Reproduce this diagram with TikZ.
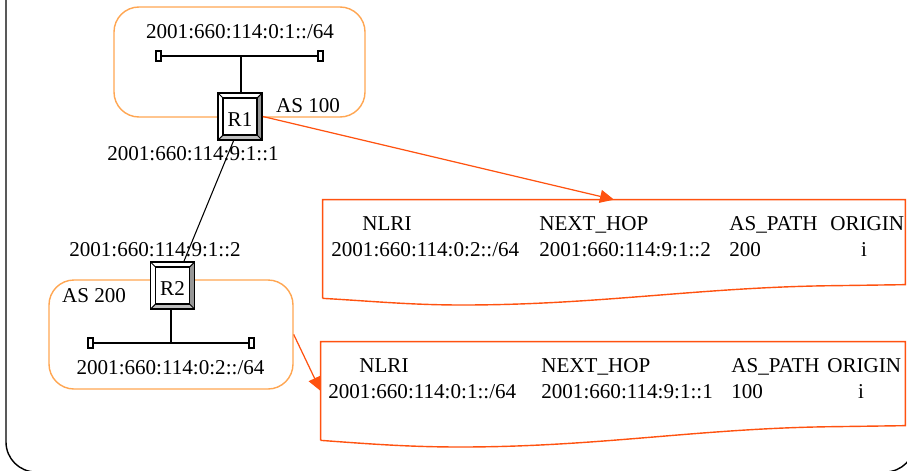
\documentclass[tikz,border=0pt]{standalone}
\usepackage{fontspec}
\setmainfont{Liberation Serif}
\usetikzlibrary{arrows.meta}

\definecolor{asline}{RGB}{255,166,82}
\definecolor{tableline}{RGB}{255,82,16}
\definecolor{bevelright}{RGB}{150,150,150}
\definecolor{bevelbottom}{RGB}{190,190,190}

\tikzset{
    every node/.style={font=\fontsize{12}{14}\selectfont},
    lbl/.style={anchor=base, inner sep=0pt},
    col/.style={anchor=base west, inner sep=0pt},
    asbox/.style={draw=asline, line width=0.8pt, rounded corners=0.5cm, inner sep=0pt},
    tablebox/.style={inner sep=0pt},
    tableedge/.style={draw=tableline, line width=0.8pt},
    tablearrow/.style={tableline, line width=0.7pt, -{Triangle[length=0.28cm, width=0.26cm]}},
    tap/.style={draw, fill=white, line width=0.6pt, inner sep=0pt, minimum width=0.1cm, minimum height=0.2cm},
    router/.style={draw, fill=white, line width=1pt, inner sep=0pt,
        minimum width=0.88cm, minimum height=0.94cm, text height=0.405cm, text depth=0pt,
        path picture={
            \coordinate (ne) at (path picture bounding box.north east);
            \coordinate (nw) at (path picture bounding box.north west);
            \coordinate (se) at (path picture bounding box.south east);
            \coordinate (sw) at (path picture bounding box.south west);
            \coordinate (ine) at ([shift={(-0.1,-0.1)}]ne);
            \coordinate (inw) at ([shift={(0.1,-0.1)}]nw);
            \coordinate (ise) at ([shift={(-0.1,0.1)}]se);
            \coordinate (isw) at ([shift={(0.1,0.1)}]sw);
            \fill[bevelright] (ne) -- (se) -- (ise) -- (ine) -- cycle;
            \fill[bevelbottom] (se) -- (sw) -- (isw) -- (ise) -- cycle;
            \draw[line width=0.6pt] (inw) rectangle (ise);
            \draw[line width=0.6pt] (nw) -- (inw) (ne) -- (ine) (sw) -- (isw) (se) -- (ise);
        }},
}

\begin{document}
\begin{tikzpicture}
    \useasboundingbox (0, 0) rectangle (18.14, 9.4);

    % outer frame
    \draw [line width=0.8pt] (0.12, 9.5) -- (0.12, 0.56) arc (180:270:0.6) -- (17.7, -0.04) arc (270:360:0.6);

    % AS areas
    \node [asbox, minimum width=5.02cm, minimum height=2.2cm] (asa) at (4.79, 8.16) {};
    \node [asbox, minimum width=4.88cm, minimum height=2.18cm] (asb) at (3.42, 2.71) {};
    \node [lbl] (asalabel) at (6.16, 7.16) {AS 100};
    \node [lbl] (asblabel) at (1.88, 3.36) {AS 200};

    % routers
    \node [router] (rone) at (4.80, 7.07) {R1};
    \node [router] (rtwo) at (3.45, 3.69) {R2};
    \draw [line width=0.6pt] ([xshift=-0.13cm]rone.south) -- ([xshift=0.23cm]rtwo.north);

    % networks
    \node [tap] (neta) at (3.17, 8.28) {};
    \node [tap] (netb) at (6.41, 8.28) {};
    \draw [line width=0.8pt] (neta) -- (netb);
    \draw [line width=0.8pt] ([xshift=0.02cm]rone.north) -- ([xshift=0.02cm]rone.north |- neta);
    \node [tap] (netc) at (1.81, 2.54) {};
    \node [tap] (netd) at (5.03, 2.54) {};
    \draw [line width=0.8pt] (netc) -- (netd);
    \draw [line width=0.6pt] ([xshift=-0.03cm]rtwo.south) -- ([xshift=-0.03cm]rtwo.south |- netc);

    % addresses
    \node [lbl] (prefixa) at (4.80, 8.64) {2001:660:114:0:1::/64};
    \node [lbl] (prefixb) at (3.41, 1.92) {2001:660:114:0:2::/64};
    \node [lbl] (addra) at (3.86, 6.20) {2001:660:114:9:1::1};
    \node [lbl] (addrb) at (3.10, 4.28) {2001:660:114:9:1::2};

    % first table
    \node [tablebox, minimum width=11.64cm, minimum height=1.96cm] (tablea) at (12.28, 4.42) {};
    \draw [tableedge] (tablea.south west) -- (tablea.north west) -- (tablea.north east) -- ++(0, -1.7)
        -- ++(-1.4, -0.02) .. controls (14.0, 3.66) and (12.0, 3.3) .. (9.24, 3.3)
        .. controls (8.2, 3.3) and (7.4, 3.38) .. (tablea.south west);
    \node [col] (a1) at (7.24, 4.80) {NLRI};
    \node [col] (a2) at (10.78, 4.80) {NEXT\_HOP};
    \node [col] (a3) at (14.58, 4.80) {AS\_PATH};
    \node [col] (a4) at (16.60, 4.80) {ORIGIN};
    \node [col] (a5) at (6.62, 4.28) {2001:660:114:0:2::/64};
    \node [col] (a6) at (10.78, 4.28) {2001:660:114:9:1::2};
    \node [col] (a7) at (14.58, 4.28) {200};
    \node [lbl] (a8) at (17.28, 4.28) {i};

    % second table
    \node [tablebox, minimum width=11.68cm, minimum height=1.96cm] (tableb) at (12.26, 1.58) {};
    \draw [tableedge] (tableb.south west) -- (tableb.north west) -- (tableb.north east) -- ++(0, -1.68)
        -- ++(-1.4, -0.02) .. controls (14.0, 0.84) and (12.0, 0.46) .. (9.2, 0.46)
        .. controls (8.2, 0.46) and (7.4, 0.52) .. (tableb.south west);
    \node [col] (b1) at (7.18, 1.96) {NLRI};
    \node [col] (b2) at (10.82, 1.96) {NEXT\_HOP};
    \node [col] (b3) at (14.62, 1.96) {AS\_PATH};
    \node [col] (b4) at (16.54, 1.96) {ORIGIN};
    \node [col] (b5) at (6.56, 1.44) {2001:660:114:0:1::/64};
    \node [col] (b6) at (10.82, 1.44) {2001:660:114:9:1::1};
    \node [col] (b7) at (14.62, 1.44) {100};
    \node [lbl] (b8) at (17.22, 1.44) {i};

    % updates
    \draw [tablearrow] (rone.east) -- (tablea.north);
    \draw [tablearrow] (asb.east) -- (tableb.west);
\end{tikzpicture}
\end{document}
